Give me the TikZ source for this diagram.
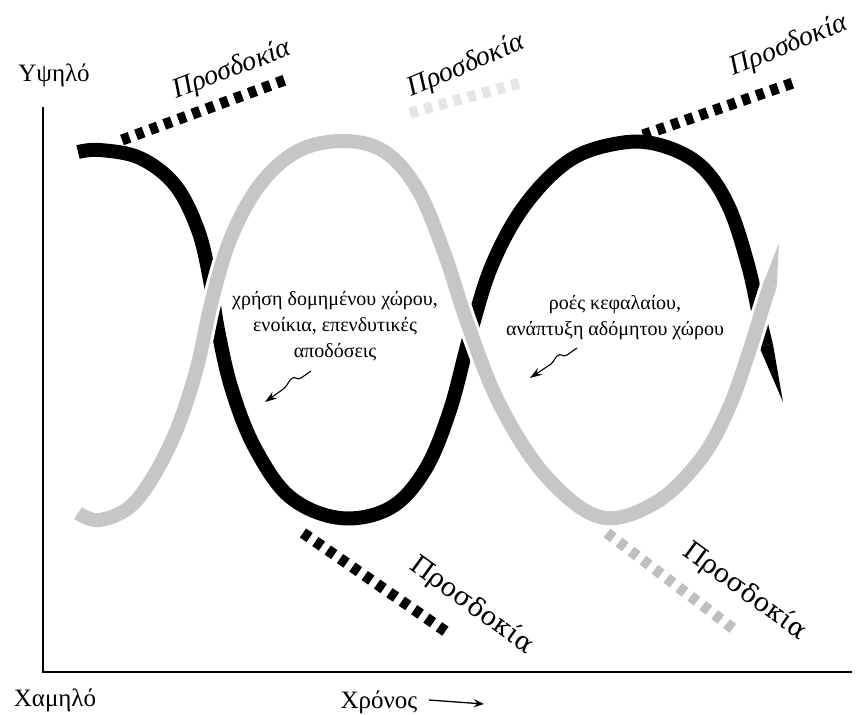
\documentclass[tikz,border=0pt]{standalone}
\usepackage{fontspec}
\setmainfont{Liberation Serif}
\newfontfamily\widegreek{DejaVu Serif}
\usetikzlibrary{arrows.meta}

\begin{document}
\begin{tikzpicture}[x=1pt,y=-1pt,
    wave/.style={line width=14pt},
    blackwave/.style={wave, black},
    greywave/.style={wave, gray!45, preaction={draw=white, line width=20pt}},
    expdash/.style={line width=11pt, dash pattern=on 8pt off 7pt},
    explbl/.style={font=\fontsize{28}{28}\selectfont\itshape},
    expdown/.style={font=\fontsize{26}{26}\widegreek},
    axislbl/.style={font=\fontsize{25}{25}\selectfont},
    midtext/.style={font=\fontsize{20}{26}\selectfont, align=center},
    squiggle/.style={line width=1.1pt, -{Stealth[length=12pt,width=8pt]}}]
  \useasboundingbox (0,0) rectangle (863,715);
  \draw[line width=1.6pt] (43,107) -- (43,672) -- (852,672);
  \node[axislbl] (high) at (54,75) {Υψηλό};
  \node[axislbl] (low) at (55,700) {Χαμηλό};
  \node[axislbl] (time) at (379,702) {Χρόνος};
  \coordinate (timetip) at (484,704);
  \draw[line width=1.3pt, -{Stealth[length=10pt,width=8pt]}] ([xshift=8pt,yshift=2pt]time.east) -- (timetip);

  \draw[expdash, black] (122,140) -- (285,80);
  \draw[expdash, gray!20] (410,113) -- (520,83);
  \draw[expdash, black] (643,135) -- (793,83);
  \draw[expdash, black] (303,533) -- (448,633);
  \draw[expdash, gray!50] (607,533) -- (735,630);
  \node[explbl, rotate=21] (exp1) at (232,70) {Προσδοκία};
  \node[explbl, rotate=23] (exp2) at (466,66) {Προσδοκία};
  \node[explbl, rotate=22] (exp3) at (789,46) {Προσδοκία};
  \node[expdown, rotate=-36] (exp4) at (472,605) {Προσδοκία};
  \node[expdown, rotate=-36] (exp5) at (745,591) {Προσδοκία};

  \draw[blackwave] plot[smooth, tension=0.6] coordinates {(78,152) (100,150) (140,158) (175,185) (198,230) (210,280) (218,330) (232,390) (255,448) (290,497) (340,518) (390,508) (425,470) (450,410) (470,335) (492,265) (525,205) (570,160) (620,143) (660,145) (700,165) (728,205) (748,265) (760,320) (766,345)};
  \fill[black] (772.8,343.3) -- (783,402) -- (759.2,346.7) -- cycle;
  \draw[greywave] plot[smooth, tension=0.6] coordinates {(78,513) (100,520) (135,502) (170,445) (195,375) (212,300) (232,235) (262,182) (300,150) (345,141) (385,152) (418,190) (445,255) (468,325) (500,405) (545,475) (600,517) (655,503) (700,460) (728,410) (748,355) (762,310) (770,285)};
  \fill[gray!45] (776.8,286.7) -- (779,243) -- (763.2,283.3) -- cycle;

  \node[midtext] (use) at (335,326) {χρήση δομημένου χώρου,\\ ενοίκια, επενδυτικές\\ αποδόσεις};
  \node[midtext] (flow) at (615,318) {ροές κεφαλαίου,\\ ανάπτυξη αδόμητου χώρου};
  \coordinate (usetail) at (311,371);
  \coordinate (usetip) at (265,402);
  \coordinate (flowtail) at (577,348);
  \coordinate (flowtip) at (530,378);
  \draw[squiggle] (usetail) -- (301,378) .. controls (297,381) and (295,375) .. (291,379) .. controls (288,382) and (287,387) .. (282,390) -- (usetip);
  \draw[squiggle] (flowtail) -- (567,355) .. controls (563,358) and (561,352) .. (557,356) .. controls (554,359) and (553,364) .. (548,366) -- (flowtip);
\end{tikzpicture}
\end{document}
